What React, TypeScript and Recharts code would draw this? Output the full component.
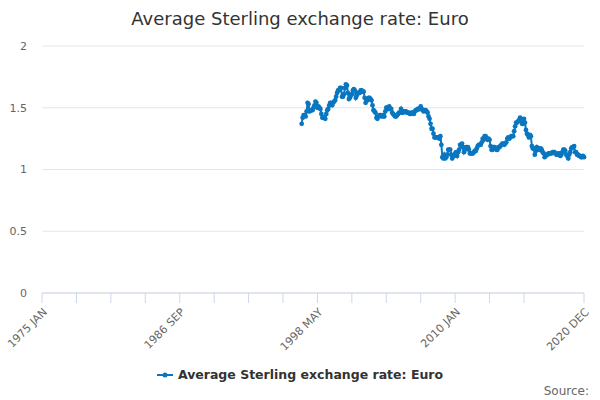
import React from "react";
import { LineChart, Line, XAxis, YAxis, CartesianGrid } from "recharts";

const FONT = "'DejaVu Sans', sans-serif";
const LINE_COLOR = "#0a76c0";

const MONTH_NAMES = ["JAN", "FEB", "MAR", "APR", "MAY", "JUN", "JUL", "AUG", "SEP", "OCT", "NOV", "DEC"];
const FIRST_YEAR = 1975;
const LAST_YEAR = 2020;
const FIRST_DATA_MONTH = "1997 JAN";

// monthly averages, 1997 JAN .. 2020 DEC
const EURO_RATE = [
  1.37, 1.42, 1.44, 1.44, 1.43, 1.47, 1.54, 1.53, 1.47, 1.48, 1.48, 1.48,
  1.5, 1.52, 1.55, 1.54, 1.5, 1.51, 1.5, 1.49, 1.45, 1.42, 1.42, 1.42,
  1.41, 1.45, 1.48, 1.49, 1.52, 1.54, 1.54, 1.52, 1.54, 1.55, 1.56, 1.59,
  1.62, 1.64, 1.64, 1.66, 1.66, 1.59, 1.59, 1.61, 1.66, 1.69, 1.68, 1.62,
  1.57, 1.58, 1.6, 1.61, 1.64, 1.65, 1.64, 1.58, 1.6, 1.62, 1.62, 1.62,
  1.64, 1.64, 1.63, 1.63, 1.58, 1.54, 1.57, 1.56, 1.58, 1.58, 1.57, 1.56,
  1.52, 1.48, 1.47, 1.46, 1.42, 1.41, 1.43, 1.44, 1.44, 1.43, 1.44, 1.43,
  1.43, 1.47, 1.5, 1.5, 1.49, 1.51, 1.49, 1.49, 1.46, 1.45, 1.44, 1.43,
  1.43, 1.44, 1.45, 1.46, 1.46, 1.49, 1.46, 1.46, 1.47, 1.47, 1.47, 1.46,
  1.46, 1.46, 1.45, 1.45, 1.46, 1.46, 1.45, 1.47, 1.48, 1.48, 1.49, 1.49,
  1.49, 1.51, 1.49, 1.48, 1.47, 1.48, 1.48, 1.47, 1.46, 1.43, 1.41, 1.37,
  1.33, 1.33, 1.29, 1.26, 1.26, 1.26, 1.26, 1.26, 1.25, 1.27, 1.2, 1.1,
  1.09, 1.12, 1.09, 1.1, 1.12, 1.16, 1.16, 1.16, 1.12, 1.09, 1.11, 1.11,
  1.13, 1.14, 1.11, 1.14, 1.16, 1.2, 1.2, 1.21, 1.18, 1.14, 1.16, 1.18,
  1.18, 1.18, 1.16, 1.13, 1.13, 1.13, 1.13, 1.14, 1.15, 1.15, 1.17, 1.19,
  1.2, 1.2, 1.2, 1.22, 1.25, 1.24, 1.27, 1.27, 1.25, 1.24, 1.25, 1.24,
  1.19, 1.16, 1.16, 1.18, 1.18, 1.17, 1.16, 1.16, 1.18, 1.18, 1.19, 1.2,
  1.21, 1.21, 1.2, 1.21, 1.22, 1.25, 1.26, 1.25, 1.26, 1.27, 1.27, 1.27,
  1.31, 1.35, 1.38, 1.38, 1.39, 1.4, 1.42, 1.41, 1.37, 1.37, 1.41, 1.38,
  1.32, 1.29, 1.28, 1.26, 1.28, 1.27, 1.19, 1.17, 1.17, 1.12, 1.15, 1.18,
  1.16, 1.17, 1.16, 1.17, 1.16, 1.14, 1.13, 1.1, 1.11, 1.12, 1.12, 1.13,
  1.13, 1.13, 1.13, 1.14, 1.14, 1.14, 1.13, 1.12, 1.12, 1.13, 1.13, 1.11,
  1.12, 1.14, 1.16, 1.16, 1.15, 1.12, 1.11, 1.09, 1.12, 1.14, 1.17, 1.18,
  1.18, 1.19, 1.14, 1.14, 1.12, 1.12, 1.11, 1.11, 1.1, 1.1, 1.11, 1.1,
];

const X_TICKS = [
  "1975 JAN", "1977 DEC", "1980 NOV", "1983 OCT", "1986 SEP", "1989 AUG", "1992 JUL", "1995 JUN",
  "1998 MAY", "2001 APR", "2004 MAR", "2007 FEB", "2010 JAN", "2012 DEC", "2015 NOV", "2020 DEC",
];
const X_LABELS = ["1975 JAN", "1986 SEP", "1998 MAY", "2010 JAN", "2020 DEC"];
const Y_TICKS = [0, 0.5, 1, 1.5, 2];

const MONTHS: string[] = [];
for (let y = FIRST_YEAR; y <= LAST_YEAR; y++) {
  for (const m of MONTH_NAMES) MONTHS.push(`${y} ${m}`);
}
const start = MONTHS.indexOf(FIRST_DATA_MONTH);
const data = MONTHS.map((month, i) => ({
  month,
  rate: i >= start ? EURO_RATE[i - start] : null,
}));

const XTick = ({ x, y, payload }: any) => {
  if (!X_LABELS.includes(payload.value)) return null;
  return (
    <text
      transform={`translate(${x + 3},${y + 5}) rotate(-45)`}
      textAnchor="end"
      dy="0.35em"
      fontSize={11}
      fill="#666"
      fontFamily={FONT}
    >
      {payload.value}
    </text>
  );
};

export default function App() {
  return (
    <div style={{ position: "absolute", left: 0, top: 0, width: 600, height: 400, background: "#fff", fontFamily: FONT }}>
      <div style={{ position: "absolute", top: 8, width: 600, textAlign: "center", fontSize: 18, color: "#333" }}>
        Average Sterling exchange rate: Euro
      </div>
      <LineChart width={600} height={400} data={data} margin={{ top: 46, right: 16, left: 0, bottom: 47 }}>
        <CartesianGrid vertical={false} stroke="#e6e6e6" />
        <XAxis
          dataKey="month"
          height={60}
          ticks={X_TICKS}
          interval={0}
          tick={<XTick />}
          tickSize={10}
          stroke="#ccd6eb"
          axisLine={{ stroke: "#ccd6eb" }}
          tickLine={{ stroke: "#ccd6eb" }}
        />
        <YAxis
          width={42}
          domain={[0, 2]}
          ticks={Y_TICKS}
          axisLine={false}
          tickLine={false}
          tickSize={0}
          tickMargin={15}
          tick={{ fontSize: 11, fill: "#666", fontFamily: FONT }}
        />
        <Line
          dataKey="rate"
          stroke={LINE_COLOR}
          strokeWidth={2}
          dot={{ r: 2.4, fill: LINE_COLOR, stroke: LINE_COLOR, strokeWidth: 0 }}
          isAnimationActive={false}
        />
      </LineChart>
      <div style={{ position: "absolute", top: 367, width: 600, display: "flex", justifyContent: "center", alignItems: "center" }}>
        <svg width={16} height={10} style={{ marginRight: 5 }}>
          <line x1={0} y1={5} x2={16} y2={5} stroke={LINE_COLOR} strokeWidth={2} />
          <circle cx={8} cy={5} r={2.5} fill={LINE_COLOR} />
        </svg>
        <span style={{ fontSize: 12.5, fontWeight: "bold", color: "#333" }}>Average Sterling exchange rate: Euro</span>
      </div>
      <div style={{ position: "absolute", top: 384, right: 11, fontSize: 12, color: "#666" }}>Source:</div>
    </div>
  );
}
